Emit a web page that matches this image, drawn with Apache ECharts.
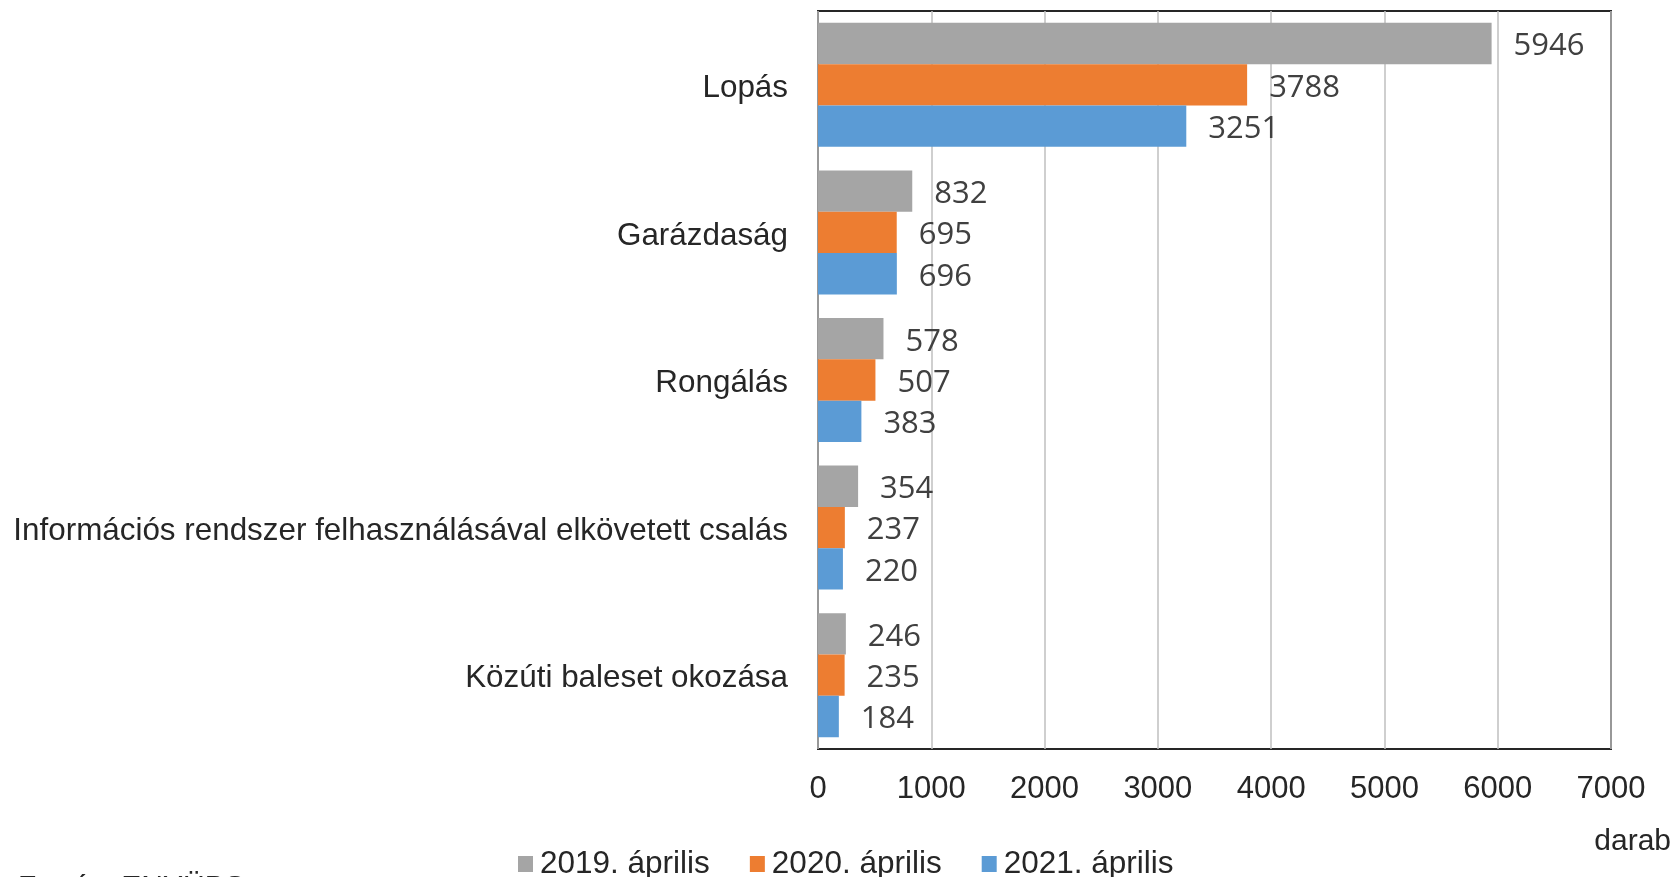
<!DOCTYPE html>
<html>
<head>
<meta charset="utf-8">
<script src="https://cdn.jsdelivr.net/npm/echarts@6/dist/echarts.min.js"></script>
<style>
html,body{margin:0;padding:0;background:#fff;}
#chart{width:1678px;height:877px;}
</style>
</head>
<body>
<div id="chart"></div>
<script>
const categories = ['Lopás', 'Garázdaság', 'Rongálás', 'Információs rendszer felhasználásával elkövetett csalás', 'Közúti baleset okozása'];
const seriesNames = ['2019. április', '2020. április', '2021. április'];
const values2019 = [5946, 832, 578, 354, 246];
const values2020 = [3788, 695, 507, 237, 235];
const values2021 = [3251, 696, 383, 220, 184];
const xTicks = { min: 0, max: 7000, interval: 1000 };
const unitLabel = 'darab';
const sourceText = 'Forrás: ENYÜBS';

const colors = ['#A5A5A5', '#ED7D31', '#5B9BD5'];
const seriesValues = [values2019, values2020, values2021];

const chart = echarts.init(document.getElementById('chart'), null, { renderer: 'canvas' });

const labelStyle = {
  show: true,
  position: 'right',
  distance: 22,
  offset: [0, 3],
  fontFamily: '"Open Sans", "Noto Sans", sans-serif',
  fontSize: 31,
  color: '#404040'
};

const catFont = { fontFamily: '"Liberation Sans", Arial, sans-serif', fontSize: 31.4, color: '#262626' };

chart.setOption({
  animation: false,
  backgroundColor: '#ffffff',
  color: colors,
  grid: {
    left: 818, top: 11, right: 67, bottom: 128,
    show: true, borderColor: '#262626', borderWidth: 2, backgroundColor: 'transparent'
  },
  legend: {
    data: seriesNames,
    left: 513,
    top: 843,
    itemWidth: 15,
    itemHeight: 16,
    itemGap: 40,
    icon: 'rect',
    textStyle: { fontFamily: '"Liberation Sans", Arial, sans-serif', fontSize: 31.5, color: '#262626', padding: [0, 0, 0, 2] }
  },
  xAxis: {
    type: 'value',
    min: xTicks.min, max: xTicks.max, interval: xTicks.interval,
    axisLine: { show: false },
    axisTick: { show: false },
    splitLine: { show: true, lineStyle: { color: '#BFBFBF', width: 1.5 } },
    axisLabel: {
      margin: 25,
      formatter: v => String(v),
      fontFamily: '"Liberation Sans", Arial, sans-serif', fontSize: 31, color: '#262626'
    }
  },
  yAxis: {
    type: 'category',
    data: categories,
    inverse: true,
    axisLine: { show: false },
    axisTick: { show: false },
    axisLabel: Object.assign({
      margin: 30,
      formatter: v => '{a|' + v + '}',
      rich: { a: Object.assign({ padding: [7, 0, 0, 0] }, catFont) }
    }, catFont)
  },
  series: seriesNames.map((name, i) => ({
    name: name,
    type: 'bar',
    data: seriesValues[i],
    barGap: '0%',
    barCategoryGap: '16%',
    label: labelStyle,
    itemStyle: { color: colors[i] }
  })),
  graphic: [
    {
      type: 'text', right: 7, top: 827,
      style: { text: unitLabel, fontFamily: '"Liberation Sans", Arial, sans-serif', fontSize: 30, fill: '#262626' }
    },
    {
      type: 'text', left: 18, top: 873,
      style: { text: sourceText, fontFamily: '"Liberation Sans", Arial, sans-serif', fontSize: 30, fill: '#262626' }
    }
  ]
});
</script>
</body>
</html>
